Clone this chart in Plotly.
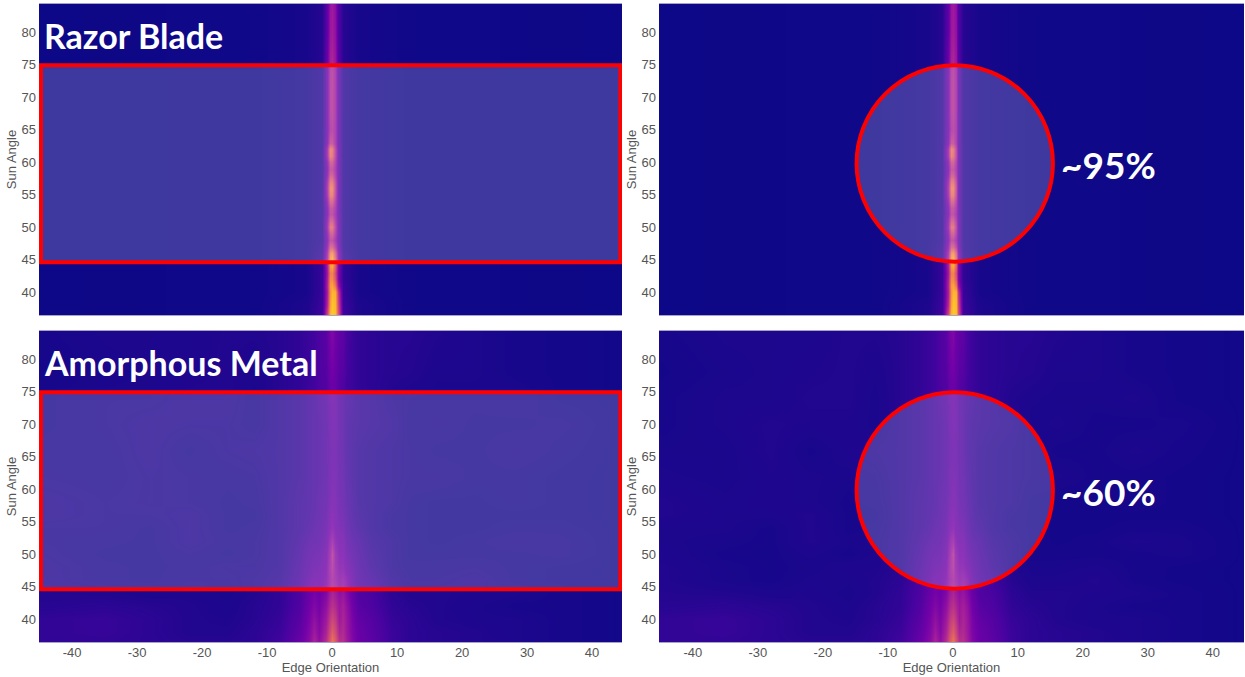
import plotly.graph_objects as go

sun_ticks = [40, 45, 50, 55, 60, 65, 70, 75, 80]
edge_ticks = [-40, -30, -20, -10, 0, 10, 20, 30, 40]
edge_labels = ["-40", "-30", "-20", "-10", "0", "10", "20", "30", "40"]

razor_x = [-45, -12, -4, -1.6, -0.8, -0.35, 0.05, 0.45, 0.85, 1.6, 4, 12, 45]
razor_y = [36.5, 38, 40, 41, 42, 43, 44, 45, 46, 47, 48, 49, 50, 51, 52, 53, 54, 55, 56, 57, 58, 59, 60, 61, 62, 63, 65, 68, 72, 76, 80, 84.3]
razor_z = [
    [0.0, 0.005, 0.03, 0.10, 0.50, 0.84, 0.88, 0.86, 0.55, 0.10, 0.03, 0.005, 0.0],
    [0.0, 0.005, 0.03, 0.09, 0.40, 0.78, 0.88, 0.84, 0.50, 0.09, 0.03, 0.005, 0.0],
    [0.0, 0.005, 0.02, 0.08, 0.36, 0.74, 0.84, 0.82, 0.44, 0.08, 0.02, 0.005, 0.0],
    [0.0, 0.005, 0.02, 0.08, 0.38, 0.76, 0.80, 0.66, 0.32, 0.08, 0.02, 0.005, 0.0],
    [0.0, 0.005, 0.02, 0.08, 0.36, 0.72, 0.72, 0.56, 0.26, 0.07, 0.02, 0.005, 0.0],
    [0.0, 0.005, 0.02, 0.08, 0.34, 0.68, 0.70, 0.52, 0.26, 0.07, 0.02, 0.005, 0.0],
    [0.0, 0.005, 0.02, 0.08, 0.36, 0.76, 0.80, 0.58, 0.26, 0.07, 0.02, 0.005, 0.0],
    [0.0, 0.005, 0.02, 0.08, 0.36, 0.76, 0.82, 0.58, 0.26, 0.07, 0.02, 0.005, 0.0],
    [0.0, 0.005, 0.02, 0.07, 0.32, 0.68, 0.72, 0.52, 0.24, 0.06, 0.02, 0.005, 0.0],
    [0.0, 0.005, 0.02, 0.06, 0.26, 0.52, 0.52, 0.38, 0.20, 0.05, 0.02, 0.005, 0.0],
    [0.0, 0.005, 0.02, 0.05, 0.22, 0.40, 0.40, 0.30, 0.17, 0.05, 0.02, 0.005, 0.0],
    [0.0, 0.005, 0.02, 0.05, 0.24, 0.46, 0.48, 0.34, 0.18, 0.05, 0.02, 0.005, 0.0],
    [0.0, 0.005, 0.02, 0.05, 0.28, 0.58, 0.58, 0.38, 0.18, 0.05, 0.02, 0.005, 0.0],
    [0.0, 0.005, 0.02, 0.05, 0.26, 0.50, 0.50, 0.34, 0.18, 0.05, 0.02, 0.005, 0.0],
    [0.0, 0.005, 0.02, 0.05, 0.21, 0.40, 0.40, 0.30, 0.17, 0.05, 0.02, 0.005, 0.0],
    [0.0, 0.005, 0.02, 0.05, 0.22, 0.42, 0.42, 0.32, 0.17, 0.05, 0.02, 0.005, 0.0],
    [0.0, 0.005, 0.02, 0.05, 0.26, 0.52, 0.52, 0.36, 0.17, 0.05, 0.02, 0.005, 0.0],
    [0.0, 0.005, 0.02, 0.05, 0.30, 0.62, 0.62, 0.40, 0.17, 0.05, 0.02, 0.005, 0.0],
    [0.0, 0.005, 0.02, 0.05, 0.32, 0.66, 0.66, 0.42, 0.17, 0.05, 0.02, 0.005, 0.0],
    [0.0, 0.005, 0.02, 0.05, 0.30, 0.60, 0.60, 0.40, 0.17, 0.05, 0.02, 0.005, 0.0],
    [0.0, 0.005, 0.02, 0.05, 0.24, 0.48, 0.48, 0.34, 0.17, 0.05, 0.02, 0.005, 0.0],
    [0.0, 0.005, 0.02, 0.05, 0.22, 0.42, 0.42, 0.32, 0.17, 0.05, 0.02, 0.005, 0.0],
    [0.0, 0.005, 0.02, 0.05, 0.24, 0.48, 0.48, 0.34, 0.17, 0.05, 0.02, 0.005, 0.0],
    [0.0, 0.005, 0.02, 0.05, 0.30, 0.62, 0.58, 0.38, 0.17, 0.05, 0.02, 0.005, 0.0],
    [0.0, 0.005, 0.02, 0.05, 0.30, 0.64, 0.60, 0.38, 0.17, 0.05, 0.02, 0.005, 0.0],
    [0.0, 0.005, 0.02, 0.05, 0.22, 0.44, 0.44, 0.32, 0.16, 0.05, 0.02, 0.005, 0.0],
    [0.0, 0.005, 0.02, 0.05, 0.20, 0.36, 0.38, 0.32, 0.16, 0.05, 0.02, 0.005, 0.0],
    [0.0, 0.005, 0.02, 0.05, 0.20, 0.38, 0.40, 0.33, 0.16, 0.05, 0.02, 0.005, 0.0],
    [0.0, 0.005, 0.02, 0.05, 0.20, 0.38, 0.40, 0.33, 0.16, 0.05, 0.02, 0.005, 0.0],
    [0.0, 0.005, 0.02, 0.05, 0.20, 0.36, 0.38, 0.32, 0.16, 0.05, 0.02, 0.005, 0.0],
    [0.0, 0.005, 0.02, 0.05, 0.18, 0.33, 0.35, 0.30, 0.15, 0.05, 0.02, 0.005, 0.0],
    [0.0, 0.005, 0.02, 0.05, 0.18, 0.32, 0.34, 0.29, 0.15, 0.05, 0.02, 0.005, 0.0],
]

metal_x = [-45, -35, -28, -22, -16, -12, -8, -5, -3.5, -2.8, -2, -1, -0.4, 0, 0.4, 1, 1.6, 2.2, 3, 4, 6, 9, 12, 16, 22, 28, 35, 44.8]
metal_y = [36.5, 38, 40, 42, 44, 46, 48, 50, 52, 54, 56, 58, 62, 66, 70, 74, 78, 84.3]
metal_z = [
    [0.07, 0.07, 0.06, 0.05, 0.05, 0.06, 0.10, 0.20, 0.28, 0.38, 0.30, 0.42, 0.58, 0.66, 0.58, 0.42, 0.42, 0.36, 0.26, 0.20, 0.17, 0.09, 0.06, 0.05, 0.04, 0.03, 0.02, 0.01],
    [0.07, 0.08, 0.06, 0.04, 0.04, 0.06, 0.09, 0.18, 0.26, 0.34, 0.27, 0.38, 0.52, 0.58, 0.52, 0.38, 0.40, 0.34, 0.25, 0.20, 0.16, 0.09, 0.06, 0.05, 0.04, 0.03, 0.02, 0.01],
    [0.07, 0.08, 0.06, 0.04, 0.035, 0.05, 0.08, 0.16, 0.24, 0.30, 0.25, 0.34, 0.46, 0.50, 0.46, 0.34, 0.38, 0.33, 0.24, 0.18, 0.15, 0.08, 0.06, 0.04, 0.03, 0.03, 0.02, 0.01],
    [0.05, 0.06, 0.05, 0.04, 0.03, 0.05, 0.07, 0.14, 0.22, 0.26, 0.23, 0.30, 0.40, 0.43, 0.40, 0.33, 0.36, 0.31, 0.22, 0.16, 0.13, 0.07, 0.05, 0.04, 0.03, 0.02, 0.02, 0.01],
    [0.045, 0.04, 0.03, 0.035, 0.025, 0.04, 0.07, 0.13, 0.20, 0.23, 0.21, 0.26, 0.35, 0.38, 0.35, 0.30, 0.32, 0.27, 0.20, 0.14, 0.12, 0.06, 0.04, 0.04, 0.035, 0.03, 0.02, 0.01],
    [0.04, 0.025, 0.02, 0.03, 0.03, 0.04, 0.06, 0.12, 0.17, 0.20, 0.20, 0.24, 0.32, 0.35, 0.32, 0.27, 0.29, 0.25, 0.18, 0.13, 0.10, 0.05, 0.03, 0.03, 0.04, 0.02, 0.015, 0.01],
    [0.04, 0.025, 0.02, 0.025, 0.035, 0.035, 0.05, 0.11, 0.15, 0.17, 0.18, 0.22, 0.33, 0.38, 0.30, 0.24, 0.24, 0.20, 0.16, 0.12, 0.08, 0.04, 0.025, 0.025, 0.03, 0.02, 0.015, 0.01],
    [0.035, 0.02, 0.02, 0.03, 0.02, 0.03, 0.05, 0.10, 0.14, 0.15, 0.16, 0.20, 0.31, 0.40, 0.28, 0.22, 0.22, 0.17, 0.14, 0.11, 0.07, 0.04, 0.02, 0.02, 0.02, 0.02, 0.025, 0.01],
    [0.03, 0.025, 0.02, 0.04, 0.025, 0.03, 0.05, 0.09, 0.12, 0.13, 0.14, 0.18, 0.27, 0.31, 0.24, 0.20, 0.20, 0.15, 0.12, 0.10, 0.06, 0.04, 0.02, 0.015, 0.02, 0.03, 0.025, 0.01],
    [0.03, 0.03, 0.02, 0.04, 0.02, 0.025, 0.05, 0.08, 0.10, 0.12, 0.13, 0.16, 0.22, 0.24, 0.21, 0.18, 0.17, 0.13, 0.10, 0.08, 0.05, 0.03, 0.02, 0.015, 0.015, 0.02, 0.02, 0.01],
    [0.04, 0.03, 0.03, 0.04, 0.02, 0.02, 0.05, 0.08, 0.09, 0.11, 0.12, 0.15, 0.20, 0.22, 0.20, 0.16, 0.15, 0.12, 0.09, 0.07, 0.05, 0.03, 0.02, 0.015, 0.015, 0.015, 0.015, 0.01],
    [0.04, 0.03, 0.035, 0.03, 0.02, 0.025, 0.05, 0.08, 0.09, 0.10, 0.12, 0.14, 0.18, 0.20, 0.19, 0.15, 0.14, 0.11, 0.09, 0.06, 0.05, 0.04, 0.02, 0.015, 0.015, 0.02, 0.015, 0.01],
    [0.03, 0.025, 0.035, 0.03, 0.025, 0.03, 0.05, 0.07, 0.09, 0.10, 0.11, 0.13, 0.17, 0.18, 0.18, 0.14, 0.13, 0.10, 0.08, 0.06, 0.05, 0.04, 0.03, 0.03, 0.02, 0.02, 0.015, 0.01],
    [0.025, 0.025, 0.04, 0.02, 0.035, 0.04, 0.05, 0.07, 0.09, 0.10, 0.11, 0.13, 0.16, 0.17, 0.17, 0.14, 0.12, 0.09, 0.08, 0.06, 0.05, 0.04, 0.03, 0.02, 0.02, 0.03, 0.02, 0.01],
    [0.02, 0.03, 0.04, 0.035, 0.035, 0.025, 0.05, 0.07, 0.09, 0.10, 0.11, 0.13, 0.17, 0.18, 0.18, 0.14, 0.12, 0.09, 0.08, 0.07, 0.06, 0.05, 0.025, 0.03, 0.02, 0.02, 0.025, 0.01],
    [0.02, 0.03, 0.03, 0.04, 0.04, 0.025, 0.05, 0.07, 0.09, 0.10, 0.12, 0.14, 0.18, 0.19, 0.18, 0.14, 0.12, 0.10, 0.09, 0.07, 0.06, 0.04, 0.03, 0.025, 0.025, 0.03, 0.015, 0.01],
    [0.015, 0.025, 0.03, 0.035, 0.04, 0.03, 0.05, 0.07, 0.09, 0.10, 0.13, 0.15, 0.21, 0.22, 0.20, 0.16, 0.15, 0.11, 0.09, 0.07, 0.06, 0.05, 0.045, 0.03, 0.03, 0.02, 0.015, 0.01],
    [0.02, 0.03, 0.03, 0.03, 0.04, 0.04, 0.05, 0.07, 0.09, 0.10, 0.13, 0.16, 0.24, 0.26, 0.22, 0.18, 0.17, 0.12, 0.09, 0.07, 0.06, 0.05, 0.05, 0.04, 0.03, 0.02, 0.015, 0.01],
]

titles = ["Razor Blade", "Amorphous Metal"]
percents = ["~95%", "~60%"]

W, H = 1245, 677
panels = [
    ("", "", (39, 622, 4, 315), (-45.1, 44.6)),
    ("2", "2", (659, 1244, 4, 315), (-45.2, 44.8)),
    ("3", "3", (39, 622, 331, 642), (-45.1, 44.6)),
    ("4", "4", (659, 1244, 331, 642), (-45.2, 44.8)),
]
datasets = [(razor_x, razor_y, razor_z), (razor_x, razor_y, razor_z), (metal_x, metal_y, metal_z), (metal_x, metal_y, metal_z)]

fig = go.Figure()
layout = {}
shapes = []
annotations = []
grey = "#555555"
for i, ((xs, ys, (l, r, t, b), xr), (dx, dy, dz)) in enumerate(zip(panels, datasets)):
    xname, yname = "x" + xs, "y" + ys
    fig.add_trace(go.Heatmap(x=dx, y=dy, z=dz, xaxis=xname, yaxis=yname, colorscale="Plasma",
                             zmin=0, zmax=1, zsmooth="best", showscale=False, hoverinfo="skip"))
    bottom = i >= 2
    layout["xaxis" + xs] = dict(
        domain=[l / W, r / W], range=list(xr), anchor=yname, tickvals=edge_ticks, ticktext=edge_labels,
        showticklabels=bottom, ticks="", showgrid=False, zeroline=False, ticklabelstandoff=-2,
        tickfont=dict(family="Liberation Sans", size=13, color=grey),
        title=dict(text="Edge Orientation" if bottom else "", standoff=1,
                   font=dict(family="Liberation Sans", size=13, color=grey)),
        showline=True, linecolor="#a5a3cc", linewidth=1, mirror=True)
    layout["yaxis" + ys] = dict(
        domain=[1 - b / H, 1 - t / H], range=[36.5, 84.3], anchor=xname, tickvals=sun_ticks,
        ticks="", showgrid=False, zeroline=False, ticklabelstandoff=2,
        tickfont=dict(family="Liberation Sans", size=13, color=grey),
        title=dict(text="Sun Angle", standoff=1, font=dict(family="Liberation Sans", size=13, color=grey)),
        showline=False)
    if i % 2 == 0:
        shapes.append(dict(type="rect", xref=xname, yref=yname, x0=-44.8, x1=44.35, y0=44.6, y1=74.9,
                           fillcolor="rgba(255,255,255,0.2)", line=dict(color="#ff0000", width=4), layer="above"))
        annotations.append(dict(text="<b>%s</b>" % titles[i // 2], xref=xname, yref=yname, x=-44.65, y=79.4,
                                xanchor="left", yanchor="middle", showarrow=False,
                                font=dict(family="Lato", size=34, color="white")))
    else:
        shapes.append(dict(type="circle", xref=xname, yref=yname, x0=-14.8, x1=15.4, y0=44.7, y1=74.9,
                           fillcolor="rgba(255,255,255,0.2)", line=dict(color="#ff0000", width=4), layer="above"))
        annotations.append(dict(text="<b>%s</b>" % percents[i // 2], xref=xname, yref=yname, x=16.3, y=59.6,
                                xanchor="left", yanchor="middle", showarrow=False,
                                font=dict(family="Lato", size=37, color="white")))

fig.update_layout(width=W, height=H, margin=dict(l=0, r=0, t=0, b=0), paper_bgcolor="white",
                  plot_bgcolor="#0d0887", shapes=shapes, annotations=annotations, showlegend=False, **layout)
fig.write_html("out.html", config={"displayModeBar": False},
               post_script="document.body.style.margin='0';document.body.style.overflow='hidden';")
